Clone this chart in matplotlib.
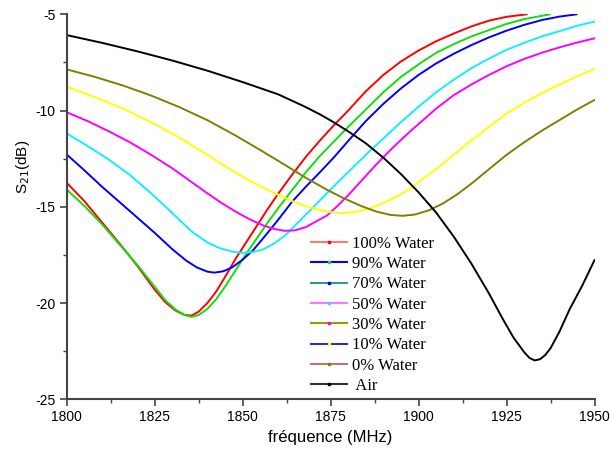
import matplotlib
matplotlib.use("Agg")
import matplotlib.pyplot as plt
from matplotlib.lines import Line2D

plt.rcParams["axes.unicode_minus"] = False

# readings (frequency in MHz, S21 in dB)
f_air = [1800, 1810, 1820, 1830, 1840, 1850, 1860, 1867.5, 1872, 1876, 1880, 1885, 1890, 1895,
         1900, 1905, 1910, 1915, 1920, 1924, 1927, 1930, 1931.5, 1933, 1934.5, 1936, 1937.5,
         1940, 1943, 1946.5, 1950]
s_air = [-6.08, -6.48, -6.92, -7.4, -7.93, -8.52, -9.15, -9.78, -10.2, -10.62, -11.08, -11.7,
         -12.45, -13.3, -14.25, -15.3, -16.55, -17.95, -19.5, -20.85, -21.8, -22.55, -22.85,
         -22.98, -22.92, -22.7, -22.35, -21.5, -20.3, -19.1, -17.77]

f_100 = [1800, 1805, 1810, 1815, 1820, 1825, 1828, 1831, 1833.5, 1835.5, 1837.5, 1840, 1842.5,
         1845, 1848, 1851, 1854, 1857, 1860, 1864, 1868, 1872, 1876, 1880, 1885, 1890, 1895,
         1900, 1905, 1910, 1915, 1920, 1925, 1930.7]
s_100 = [-13.75, -14.7, -15.8, -16.9, -18.05, -19.3, -19.95, -20.4, -20.62, -20.65, -20.45, -20.0,
         -19.4, -18.65, -17.7, -16.85, -16.0, -15.15, -14.35, -13.35, -12.4, -11.55, -10.75, -10.0,
         -9.0, -8.15, -7.45, -6.88, -6.4, -6.0, -5.63, -5.33, -5.13, -5.0]

f_90 = [1800, 1805, 1810, 1815, 1820, 1825, 1828, 1831, 1833.5, 1835.5, 1837.5, 1840, 1842.5,
        1845, 1848, 1851, 1854, 1857, 1860, 1864, 1868, 1872, 1876, 1880, 1885, 1890, 1895,
        1900, 1905, 1910, 1915, 1920, 1925, 1930, 1937.3]
s_90 = [-14.1, -14.95, -15.9, -16.95, -18.0, -19.15, -19.85, -20.35, -20.62, -20.72, -20.62, -20.3,
        -19.8, -19.15, -18.3, -17.45, -16.65, -15.85, -15.1, -14.15, -13.2, -12.35, -11.6, -10.85,
        -9.95, -9.05, -8.25, -7.6, -7.0, -6.55, -6.15, -5.82, -5.5, -5.25, -5.0]

f_70 = [1800, 1805, 1810, 1815, 1820, 1825, 1830, 1834, 1837, 1840, 1842, 1844.5, 1847, 1850,
        1853, 1856, 1860, 1864, 1868, 1872, 1876, 1880, 1885, 1890, 1895, 1900, 1905, 1910,
        1915, 1920, 1925, 1930, 1935, 1940, 1944.9]
s_70 = [-12.28, -13.1, -13.95, -14.75, -15.55, -16.35, -17.2, -17.8, -18.15, -18.37, -18.42, -18.35,
        -18.15, -17.75, -17.25, -16.6, -15.7, -14.75, -13.95, -13.2, -12.42, -11.58, -10.55, -9.65,
        -8.85, -8.15, -7.55, -7.05, -6.6, -6.2, -5.85, -5.55, -5.3, -5.12, -5.0]

f_50 = [1800, 1806, 1812, 1818, 1824, 1829, 1833, 1836, 1840, 1843.5, 1847, 1850, 1853, 1856,
        1859, 1862, 1865, 1868, 1871, 1875, 1880, 1885, 1890, 1895, 1900, 1905, 1910, 1915,
        1920, 1925, 1930, 1935, 1940, 1945, 1950]
s_50 = [-11.19, -11.85, -12.55, -13.35, -14.3, -15.15, -15.85, -16.35, -16.85, -17.15, -17.33,
        -17.39, -17.35, -17.2, -16.9, -16.5, -15.95, -15.4, -14.85, -14.1, -13.2, -12.3, -11.45,
        -10.6, -9.8, -9.05, -8.4, -7.8, -7.3, -6.85, -6.48, -6.15, -5.88, -5.6, -5.38]

f_30 = [1800, 1806, 1812, 1818, 1824, 1830, 1835, 1840, 1844, 1848, 1852, 1856, 1859, 1862,
        1865, 1868, 1871, 1874, 1877, 1880, 1884, 1888, 1892, 1896, 1900, 1905, 1910, 1915,
        1920, 1925, 1930, 1935, 1940, 1945, 1950]
s_30 = [-10.09, -10.55, -11.08, -11.65, -12.3, -13.0, -13.65, -14.3, -14.8, -15.25, -15.65, -15.98,
        -16.15, -16.25, -16.22, -16.05, -15.75, -15.45, -14.95, -14.4, -13.6, -12.8, -12.05, -11.35,
        -10.7, -9.9, -9.2, -8.65, -8.15, -7.7, -7.32, -7.0, -6.72, -6.47, -6.25]

f_10 = [1800, 1808, 1816, 1824, 1832, 1840, 1846, 1852, 1858, 1864, 1869, 1874, 1878, 1882,
        1886, 1890, 1894, 1898, 1902, 1906, 1910, 1915, 1920, 1925, 1930, 1935, 1940, 1945, 1950]
s_10 = [-8.76, -9.3, -9.9, -10.6, -11.4, -12.3, -13.0, -13.65, -14.2, -14.7, -15.03, -15.25,
        -15.33, -15.27, -15.1, -14.8, -14.45, -14.0, -13.45, -12.9, -12.3, -11.55, -10.85, -10.15,
        -9.6, -9.1, -8.65, -8.23, -7.84]

f_0 = [1800, 1808, 1816, 1824, 1832, 1840, 1848, 1855, 1862, 1868, 1874, 1879, 1884, 1888,
       1892, 1895.5, 1899, 1903, 1907, 1911, 1915, 1920, 1925, 1930, 1935, 1940, 1945, 1950]
s_0 = [-7.86, -8.25, -8.7, -9.22, -9.82, -10.5, -11.3, -12.05, -12.82, -13.5, -14.12, -14.58,
       -14.98, -15.25, -15.42, -15.47, -15.4, -15.18, -14.82, -14.35, -13.8, -13.05, -12.3, -11.65,
       -11.05, -10.5, -9.95, -9.45]

labels = ["100% Water", "90% Water", "70% Water", "50% Water",
          "30% Water", "10% Water", "0% Water", " Air"]

fig = plt.figure(figsize=(6.1, 4.5), dpi=100)
ax = fig.add_axes([0.1093, 0.1127, 0.8653, 0.8555])

ax.plot(f_100, s_100, color="#ff0000", lw=1.4)
ax.plot(f_90, s_90, color="#11dd11", lw=1.4)
ax.plot(f_70, s_70, color="#0000ff", lw=1.4)
ax.plot(f_50, s_50, color="#11eeff", lw=1.4)
ax.plot(f_30, s_30, color="#ff00ff", lw=1.4)
ax.plot(f_10, s_10, color="#ffff00", lw=1.4)
ax.plot(f_0, s_0, color="#808000", lw=1.4)
ax.plot(f_air, s_air, color="#000000", lw=1.4)

ax.set_xlim(1800, 1950)
ax.set_ylim(-25, -5)
ax.set_xticks([1800, 1825, 1850, 1875, 1900, 1925, 1950])
ax.set_xticks([1812.5, 1837.5, 1862.5, 1887.5, 1912.5, 1937.5], minor=True)
ax.set_yticks([-25, -20, -15, -10, -5])
ax.set_yticks([-22.5, -17.5, -12.5, -7.5], minor=True)

for side in ["top", "right"]:
    ax.spines[side].set_visible(False)
for side in ["left", "bottom"]:
    ax.spines[side].set_linewidth(1.5)
    ax.spines[side].set_color("#444444")
ax.tick_params(which="major", direction="out", length=5, width=1.2, color="#444444",
               labelsize=10, pad=3)
ax.tick_params(which="minor", direction="out", length=3, width=1.0, color="#444444")
for lab in ax.get_xticklabels() + ax.get_yticklabels():
    lab.set_family("Liberation Sans")

ax.set_xlabel("fréquence (MHz)", family="Liberation Sans", fontsize=12, labelpad=4)
fig.text(0.038, 0.63, "S$_{21}$(dB)", rotation=90, ha="center", va="center",
         family="Liberation Sans", fontsize=11)

# legend as drawn in the reference (handle colours do not match the curves)
line_cols = ["#ff7777", "#0000ff", "#339999", "#ff77ff", "#999900", "#333399", "#bb7777", "#333333"]
dot_cols = ["#ff0000", "#22dd22", "#0000ff", "#22ddff", "#ff00ff", "#ffff00", "#808000", "#000000"]
handles = [Line2D([], [], color=lc, lw=1.5, marker="s", markersize=2,
                  markerfacecolor=dc, markeredgecolor=dc)
           for lc, dc in zip(line_cols, dot_cols)]
ax.legend(handles, labels, loc="upper left", bbox_to_anchor=(299 / 610, 1 - 224 / 450),
          bbox_transform=fig.transFigure, frameon=False, numpoints=1,
          handlelength=2.2, handletextpad=0.3, labelspacing=0.26, borderpad=0.2,
          prop={"family": "Liberation Serif", "size": 12})

fig.savefig("out.png", dpi=100)
